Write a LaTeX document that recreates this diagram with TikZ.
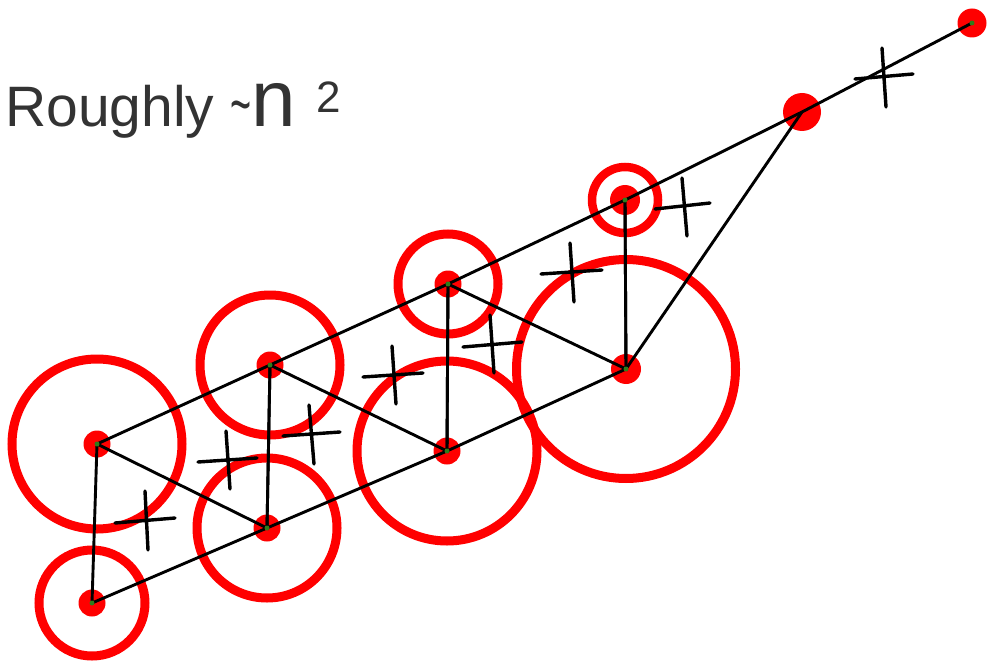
\documentclass[tikz,border=0pt]{standalone}
\usepackage{fontspec}
\setmainfont{Liberation Sans}
\definecolor{txtgray}{HTML}{333333}
\definecolor{ctrgreen}{HTML}{2E7D1A}
\begin{document}
\begin{tikzpicture}[x=1pt,y=-1pt,
  ring/.style={circle,draw=red,line width=9pt,inner sep=0pt,minimum size=#1},
  dot/.style={circle,fill=red,inner sep=0pt,minimum size=#1},
  ctr/.style={circle,fill=ctrgreen,inner sep=0pt,minimum size=5pt},
  edge/.style={draw=black,line width=2.9pt,line cap=round},
  tick/.style={draw=black,line width=3.4pt,line cap=round},
  lbl/.style={text=txtgray,inner sep=0pt,anchor=base west}]
\useasboundingbox (0,0) rectangle (987,663);
% rings
\node[ring=106pt] (rA) at (92,603) {};
\node[ring=170pt] (rB) at (97,444) {};
\node[ring=140pt] (rC) at (267,528) {};
\node[ring=140pt] (rD) at (270,365) {};
\node[ring=180pt] (rE) at (447,451) {};
\node[ring=100pt] (rF) at (448,284) {};
\node[ring=219pt] (rG) at (626,369) {};
\node[ring=66pt,line width=8.5pt] (rH) at (625,200) {};
% dots
\node[dot=27pt] (A) at (92,603) {};
\node[dot=27pt] (B) at (97,444) {};
\node[dot=27pt] (C) at (267,528) {};
\node[dot=27pt] (D) at (270,365) {};
\node[dot=27pt] (E) at (447,451) {};
\node[dot=27pt] (F) at (448,284) {};
\node[dot=30pt] (G) at (626,369) {};
\node[dot=30pt] (H) at (625,200) {};
\node[dot=38pt] (I) at (802,112) {};
\node[dot=29pt] (J) at (972,23) {};
% edges
\path[edge] (A.center) -- (B.center);
\path[edge] (C.center) -- (D.center);
\path[edge] (E.center) -- (F.center);
\path[edge] (G.center) -- (H.center);
\path[edge] (A.center) -- (C.center) -- (E.center) -- (G.center) -- (I.center);
\path[edge] (B.center) -- (D.center) -- (F.center) -- (H.center) -- (I.center) -- (J.center);
\path[edge] (B.center) -- (C.center) -- (D.center) -- (E.center) -- (F.center) -- (G.center) -- (H.center);
% green centres
\foreach \p in {A,B,C,D,E,F,G,H,J}{\node[ctr] at (\p.center) {};}
% cross marks
\path[tick] (115,523) -- (175,518) (145,491) -- (148,550);
\path[tick] (198,462) -- (257,458) (226,431) -- (230,489);
\path[tick] (283,436) -- (340,432) (309,405) -- (314,464);
\path[tick] (363,377) -- (423,373) (392,346) -- (396,404);
\path[tick] (463,347) -- (522,342) (490,315) -- (494,373);
\path[tick] (541,274) -- (602,270) (570,243) -- (574,302);
\path[tick] (655,209) -- (710,203) (682,178) -- (687,236);
\path[tick] (855,79) -- (913,74) (882,48) -- (886,107);
% label
\node[lbl] (t1) at (5,127) {\fontsize{57}{57}\selectfont Roughly \scalebox{1}[1.8]{\fontsize{36}{36}\selectfont\char"7E}{\fontsize{80}{80}\selectfont n}\hspace{21pt}\raisebox{14pt}{\fontsize{44}{44}\selectfont 2}};
\end{tikzpicture}
\end{document}
